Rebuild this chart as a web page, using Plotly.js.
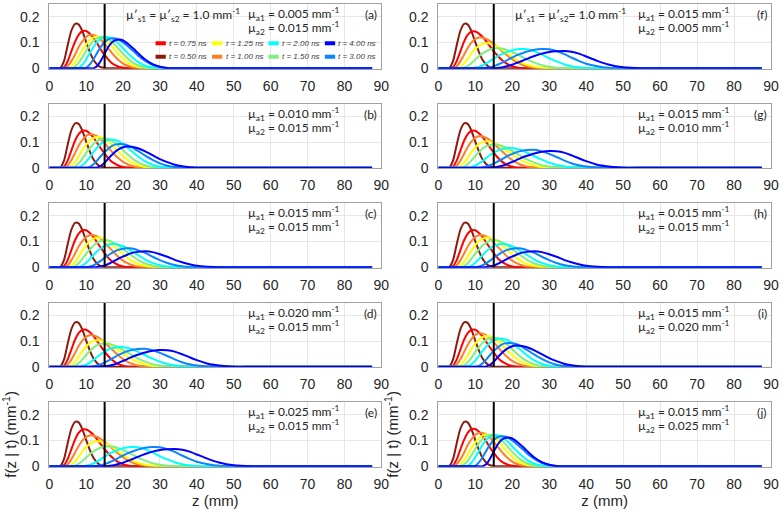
<!DOCTYPE html>
<html><head><meta charset="utf-8">
<script src="https://cdn.plot.ly/plotly-3.0.1.min.js"></script>
<style>html,body{margin:0;padding:0;background:#fff}#chart{width:783px;height:515px}</style>
</head><body><div id="chart"></div>
<script>
// depth grid (mm)
const zGrid = [0,2,3,4,5,6,7,8,9,10,11,12,13,14,15,16,17,18,19,20,21,22,23,24,26,28,30,32,34,36,38,40,43,46,50,55,60,87.5];
const timeLabels = ['0.50','0.75','1.00','1.25','1.50','2.00','3.00','4.00'];
const curveColors = ['#8b1a0e','#ff0000','#ff7f27','#ffff00','#7ff07f','#00ffff','#0a84ff','#0000ff'];
const xTickVals = [0,10,20,30,40,50,60,70,80,90];
const yTickVals = [0,0.1,0.2];
const yTickText = ['0','0.1','0.2'];
const interfaceZ = 15;
const yTop = 0.25;

// f(z|t) curves, rows = t 0.50 ... 4.00 ns
// mu_a1 - mu_a2 = -0.010 (panels a, j)
const fDeltaM010 = [
[0,0,.002,.029,.091,.147,.173,.170,.143,.102,.063,.032,.014,.004,.001,0,0,0,0,0,0,0,0,0,0,0,0,0,0,0,0,0,0,0,0,0,0,0],
[0,0,0,.004,.028,.067,.104,.131,.145,.145,.134,.117,.096,.072,.052,.034,.020,.011,.005,.002,0,0,0,0,0,0,0,0,0,0,0,0,0,0,0,0,0,0],
[0,0,0,0,.009,.028,.054,.084,.106,.122,.130,.130,.124,.111,.095,.077,.059,.043,.029,.018,.011,.006,.002,.001,0,0,0,0,0,0,0,0,0,0,0,0,0,0],
[0,0,0,0,0,.007,.024,.047,.072,.093,.110,.120,.124,.122,.113,.100,.085,.068,.052,.038,.025,.016,.010,.005,.001,0,0,0,0,0,0,0,0,0,0,0,0,0],
[0,0,0,0,0,0,.007,.022,.044,.068,.090,.106,.117,.122,.121,.114,.102,.088,.072,.056,.042,.029,.019,.012,.003,0,0,0,0,0,0,0,0,0,0,0,0,0],
[0,0,0,0,0,0,0,.002,.014,.035,.060,.084,.103,.115,.121,.121,.116,.106,.093,.078,.063,.049,.036,.025,.010,.003,0,0,0,0,0,0,0,0,0,0,0,0],
[0,0,0,0,0,0,0,0,0,.002,.015,.036,.061,.084,.102,.113,.117,.116,.110,.101,.090,.076,.064,.050,.029,.013,.005,.001,0,0,0,0,0,0,0,0,0,0],
[0,0,0,0,0,0,0,0,0,0,0,0,.009,.030,.057,.083,.101,.110,.112,.108,.099,.087,.074,.060,.034,.016,.006,.001,0,0,0,0,0,0,0,0,0,0]
];
// mu_a1 - mu_a2 = -0.005 (panels b, i)
const fDeltaM005 = [
[0,0,.002,.029,.091,.147,.173,.170,.143,.102,.063,.032,.014,.004,.001,0,0,0,0,0,0,0,0,0,0,0,0,0,0,0,0,0,0,0,0,0,0,0],
[0,0,0,.005,.029,.068,.106,.132,.144,.144,.133,.117,.096,.075,.055,.037,.023,.014,.007,.003,.001,0,0,0,0,0,0,0,0,0,0,0,0,0,0,0,0,0],
[0,0,0,0,.009,.030,.058,.087,.109,.124,.130,.129,.122,.110,.095,.079,.062,.047,.034,.023,.015,.009,.005,.002,0,0,0,0,0,0,0,0,0,0,0,0,0,0],
[0,0,0,0,0,.007,.023,.045,.070,.090,.106,.116,.120,.119,.112,.101,.089,.074,.059,.046,.034,.023,.016,.010,.003,0,0,0,0,0,0,0,0,0,0,0,0,0],
[0,0,0,0,0,0,.005,.018,.036,.058,.077,.093,.105,.112,.114,.112,.105,.095,.082,.068,.055,.042,.031,.022,.009,.003,0,0,0,0,0,0,0,0,0,0,0,0],
[0,0,0,0,0,0,0,.002,.010,.024,.042,.062,.079,.094,.103,.108,.110,.107,.102,.092,.081,.069,.057,.045,.025,.012,.004,.001,0,0,0,0,0,0,0,0,0,0],
[0,0,0,0,0,0,0,0,0,0,.004,.014,.029,.046,.061,.074,.085,.091,.093,.092,.089,.083,.075,.066,.047,.031,.017,.008,.003,.001,0,0,0,0,0,0,0,0],
[0,0,0,0,0,0,0,0,0,0,0,0,.001,.008,.020,.036,.051,.064,.074,.080,.083,.082,.080,.076,.064,.049,.034,.022,.012,.006,.002,0,0,0,0,0,0,0]
];
// mu_a1 = mu_a2 (panels c, h)
const fDelta000 = [
[0,0,.002,.029,.091,.147,.173,.170,.143,.102,.063,.032,.014,.004,.001,0,0,0,0,0,0,0,0,0,0,0,0,0,0,0,0,0,0,0,0,0,0,0],
[0,0,0,.005,.029,.068,.106,.132,.144,.144,.133,.117,.096,.075,.055,.037,.023,.014,.007,.003,.001,0,0,0,0,0,0,0,0,0,0,0,0,0,0,0,0,0],
[0,0,0,0,.008,.028,.054,.082,.103,.118,.125,.125,.120,.110,.096,.081,.066,.051,.037,.026,.017,.011,.006,.003,0,0,0,0,0,0,0,0,0,0,0,0,0,0],
[0,0,0,0,0,.006,.021,.043,.066,.086,.102,.111,.116,.115,.110,.101,.089,.077,.063,.050,.039,.028,.020,.013,.005,.001,0,0,0,0,0,0,0,0,0,0,0,0],
[0,0,0,0,0,0,.005,.016,.034,.053,.070,.085,.096,.103,.105,.104,.099,.091,.082,.071,.060,.049,.039,.029,.015,.007,.002,0,0,0,0,0,0,0,0,0,0,0],
[0,0,0,0,0,0,0,.001,.007,.018,.032,.048,.062,.074,.082,.088,.091,.091,.087,.082,.075,.066,.057,.048,.030,.017,.008,.003,.001,0,0,0,0,0,0,0,0,0],
[0,0,0,0,0,0,0,0,0,0,.003,.008,.016,.026,.037,.047,.056,.064,.069,.072,.074,.074,.071,.067,.056,.041,.028,.017,.009,.004,.001,0,0,0,0,0,0,0],
[0,0,0,0,0,0,0,0,0,0,0,0,.001,.003,.007,.013,.020,.028,.036,.042,.048,.054,.058,.060,.062,.059,.051,.041,.029,.020,.012,.006,.002,0,0,0,0,0]
];
// mu_a1 - mu_a2 = +0.005 (panels d, g)
const fDeltaP005 = [
[0,0,.002,.029,.091,.147,.173,.170,.143,.102,.063,.032,.014,.004,.001,0,0,0,0,0,0,0,0,0,0,0,0,0,0,0,0,0,0,0,0,0,0,0],
[0,0,0,.005,.029,.068,.106,.132,.144,.144,.134,.119,.099,.079,.059,.041,.027,.016,.009,.004,.001,0,0,0,0,0,0,0,0,0,0,0,0,0,0,0,0,0],
[0,0,0,0,.009,.028,.055,.082,.103,.117,.123,.122,.116,.107,.095,.081,.067,.054,.041,.030,.021,.014,.009,.005,.001,0,0,0,0,0,0,0,0,0,0,0,0,0],
[0,0,0,0,0,.006,.020,.040,.062,.079,.093,.100,.103,.102,.097,.091,.082,.072,.062,.052,.042,.033,.025,.019,.009,.003,.001,0,0,0,0,0,0,0,0,0,0,0],
[0,0,0,0,0,0,.004,.015,.029,.046,.061,.075,.084,.089,.091,.090,.086,.081,.074,.066,.057,.049,.040,.033,.020,.010,.005,.001,0,0,0,0,0,0,0,0,0,0],
[0,0,0,0,0,0,0,0,.003,.008,.017,.027,.039,.050,.059,.067,.072,.075,.077,.077,.074,.070,.065,.059,.045,.032,.020,.011,.006,.002,0,0,0,0,0,0,0,0],
[0,0,0,0,0,0,0,0,0,0,0,.002,.005,.010,.016,.024,.032,.040,.048,.054,.060,.064,.067,.069,.070,.064,.054,.042,.029,.018,.010,.005,.001,0,0,0,0,0],
[0,0,0,0,0,0,0,0,0,0,0,0,0,0,.001,.004,.007,.011,.017,.023,.029,.036,.042,.047,.056,.062,.065,.064,.059,.049,.037,.026,.012,.005,0,0,0,0]
];
// mu_a1 - mu_a2 = +0.010 (panels e, f)
const fDeltaP010 = [
[0,0,.002,.029,.091,.147,.173,.170,.143,.102,.063,.032,.014,.004,.001,0,0,0,0,0,0,0,0,0,0,0,0,0,0,0,0,0,0,0,0,0,0,0],
[0,0,0,.005,.029,.067,.105,.131,.143,.143,.135,.122,.104,.085,.066,.050,.035,.023,.014,.008,.004,.001,0,0,0,0,0,0,0,0,0,0,0,0,0,0,0,0],
[0,0,0,0,.008,.028,.054,.080,.101,.114,.120,.119,.114,.106,.095,.083,.070,.058,.046,.035,.025,.018,.012,.008,.002,0,0,0,0,0,0,0,0,0,0,0,0,0],
[0,0,0,0,0,.006,.019,.038,.058,.075,.087,.095,.097,.096,.091,.084,.075,.065,.055,.045,.035,.027,.019,.014,.006,.002,0,0,0,0,0,0,0,0,0,0,0,0],
[0,0,0,0,0,0,.003,.010,.021,.034,.047,.058,.067,.073,.077,.078,.077,.074,.069,.063,.057,.049,.042,.035,.022,.012,.006,.002,0,0,0,0,0,0,0,0,0,0],
[0,0,0,0,0,0,0,0,0,.002,.006,.011,.019,.028,.037,.046,.054,.060,.066,.070,.073,.075,.075,.074,.066,.054,.039,.027,.016,.008,.004,.001,0,0,0,0,0,0],
[0,0,0,0,0,0,0,0,0,0,0,0,.002,.004,.008,.014,.020,.027,.035,.042,.049,.055,.060,.065,.072,.075,.074,.067,.056,.042,.029,.018,.008,.002,0,0,0,0],
[0,0,0,0,0,0,0,0,0,0,0,0,0,0,0,.001,.003,.006,.010,.014,.020,.025,.031,.037,.048,.057,.063,.066,.067,.064,.057,.046,.029,.015,.004,0,0,0]
];

const panelLetters = ['a','b','c','d','e','f','g','h','i','j'];
const muA1Labels = ['0.005','0.010','0.015','0.020','0.025','0.015','0.015','0.015','0.015','0.015'];
const muA2Labels = ['0.015','0.015','0.015','0.015','0.015','0.005','0.010','0.015','0.020','0.025'];
const panelCurves = [fDeltaM010,fDeltaM005,fDelta000,fDeltaP005,fDeltaP010,fDeltaP010,fDeltaP005,fDelta000,fDeltaM005,fDeltaM010];
const scatterNotes = ['µ′<sub>s1</sub> = µ′<sub>s2</sub> = 1.0 mm<sup>-1</sup>', 'µ′<sub>s1</sub> = µ′<sub>s2</sub>= 1.0 mm<sup>-1</sup>'];

// ---- layout geometry ----
const W = 783, H = 515;
const colPx = [[49.3,381.3],[438.3,771]];
const rowTopPx = [4,103.5,203,302.5,402];
const panelHpx = 64.7;
const tickFont = {family:'Liberation Sans, Arial, sans-serif', size:14, color:'#262626'};
const noteFont = {family:'Lato, Open Sans, sans-serif', size:12, color:'#262626'};
const titleFont = {family:'Liberation Sans, Arial, sans-serif', size:15, color:'#262626'};

const traces = [];
const layout = {
  width:W, height:H, margin:{l:0,r:0,t:0,b:0}, showlegend:false,
  paper_bgcolor:'#fff', plot_bgcolor:'#fff', annotations:[], shapes:[]
};

panelCurves.forEach((curves, p) => {
  const id = p + 1;
  const col = p < 5 ? 0 : 1, row = p % 5;
  const xs = id === 1 ? '' : String(id);
  const xa = 'x' + xs, ya = 'y' + xs;
  layout['xaxis' + xs] = {
    domain:[colPx[col][0]/W, colPx[col][1]/W], anchor:ya, range:[0,90],
    tickvals:xTickVals, showgrid:true, gridcolor:'#e6e6e6', gridwidth:1,
    showline:true, linecolor:'#a0a0a0', linewidth:1, mirror:true, zeroline:false,
    ticks:'', ticklabelstandoff:4, tickfont:tickFont, fixedrange:true
  };
  const top = rowTopPx[row];
  layout['yaxis' + xs] = {
    domain:[1-(top+panelHpx)/H, 1-top/H], anchor:xa, range:[-0.0015, yTop],
    tickvals:yTickVals, ticktext:yTickText, showgrid:true, gridcolor:'#e6e6e6', gridwidth:1,
    showline:true, linecolor:'#a0a0a0', linewidth:1, mirror:true, zeroline:false,
    ticks:'', ticklabelstandoff:6, tickfont:tickFont, fixedrange:true
  };
  if (row === 4) {
    layout['xaxis' + xs].title = {text:'z (mm)', font:titleFont, standoff:2};
    layout['yaxis' + xs].title = {text:'f(z | t) (mm<sup>-1</sup>)', font:titleFont, standoff:6};
  }
  curves.forEach((vals, i) => {
    traces.push({x:zGrid, y:vals, xaxis:xa, yaxis:ya, type:'scatter', mode:'lines',
      name:'t = ' + timeLabels[i] + ' ns', line:{color:curveColors[i], width:2, shape:'spline', smoothing:0.7},
      hoverinfo:'skip', showlegend:false});
  });
  traces.push({x:[interfaceZ, interfaceZ], y:[0, yTop], xaxis:xa, yaxis:ya, type:'scatter', mode:'lines',
    line:{color:'#000', width:2}, hoverinfo:'skip', showlegend:false});

  const xr = xa + ' domain', yr = ya + ' domain';
  layout.annotations.push(
    {xref:xr, yref:yr, x:0.593, y:0.845, xanchor:'left', yanchor:'middle', showarrow:false, font:noteFont,
     text:'µ<sub>a1</sub> = ' + muA1Labels[p] + ' mm<sup>-1</sup>'},
    {xref:xr, yref:yr, x:0.593, y:0.624, xanchor:'left', yanchor:'middle', showarrow:false, font:noteFont,
     text:'µ<sub>a2</sub> = ' + muA2Labels[p] + ' mm<sup>-1</sup>'},
    {xref:xr, yref:yr, x:0.993, y:0.83, xanchor:'right', yanchor:'middle', showarrow:false, font:noteFont,
     text:'(' + panelLetters[p] + ')'}
  );
  if (row === 0) {
    layout.annotations.push({xref:xr, yref:yr, x:0.225, y:0.83, xanchor:'left', yanchor:'middle', showarrow:false, font:noteFont,
      text:scatterNotes[col]});
  }
});

// legend drawn inside panel (a): two rows of four entries
const legRowY = [0.393, 0.185];
timeLabels.forEach((t, i) => {
  const c = Math.floor(i / 2), r = (i % 2 === 1) ? 0 : 1;
  layout.shapes.push({type:'line', xref:'x domain', yref:'y domain',
    x0:0.320 + c*0.170, x1:0.351 + c*0.170, y0:legRowY[r], y1:legRowY[r],
    line:{color:curveColors[i], width:4}});
  layout.annotations.push({xref:'x domain', yref:'y domain', x:0.355 + c*0.170, y:legRowY[r],
    xanchor:'left', yanchor:'middle', showarrow:false,
    font:{family:'Liberation Sans, Arial, sans-serif', size:8, color:'#404040'},
    text:'<i>t = ' + t + ' ns</i>'});
});

Plotly.newPlot('chart', traces, layout, {displayModeBar:false, staticPlot:true});
</script></body></html>
